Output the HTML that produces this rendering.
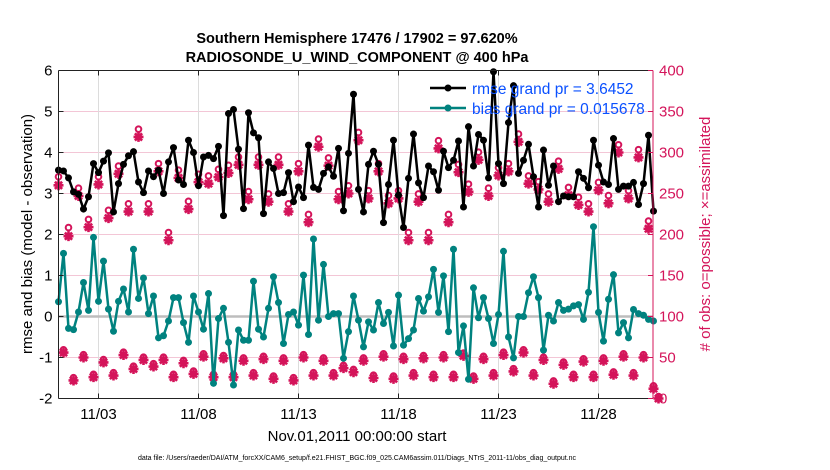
<!DOCTYPE html>
<html><head><meta charset="utf-8"><style>
body{margin:0;background:#fff}
svg{display:block;font-family:"Liberation Sans",sans-serif}
</style></head><body>
<svg id="chart" width="830" height="470" viewBox="0 0 830 470" xmlns="http://www.w3.org/2000/svg">
<text x="357" y="43" text-anchor="middle" font-size="14.5" font-weight="bold">Southern Hemisphere 17476 / 17902 = 97.620%</text>
<text x="357" y="62" text-anchor="middle" font-size="14.5" font-weight="bold">RADIOSONDE_U_WIND_COMPONENT @ 400 hPa</text>
<text transform="translate(32,234) rotate(-90)" text-anchor="middle" font-size="15">rmse and bias (model - observation)</text>
<text transform="translate(710,234) rotate(-90)" text-anchor="middle" font-size="15" fill="#d4145a"># of obs: o=possible; ×=assimilated</text>
<text x="357" y="441" text-anchor="middle" font-size="15">Nov.01,2011 00:00:00 start</text>
<text x="357" y="460" text-anchor="middle" font-size="7">data file: /Users/raeder/DAI/ATM_forcXX/CAM6_setup/f.e21.FHIST_BGC.f09_025.CAM6assim.011/Diags_NTrS_2011-11/obs_diag_output.nc</text>
<g id="grid"></g>
<g id="marks"></g>
<g id="axes"></g>
<g id="legend">
<line x1="430" y1="88" x2="466" y2="88" stroke="#000" stroke-width="2.5"/><circle cx="448" cy="88" r="3.5" fill="#000"/>
<text x="472" y="94" font-size="15.5" fill="#0a50ff">rmse grand pr = 3.6452</text>
<line x1="430" y1="108" x2="466" y2="108" stroke="#00827f" stroke-width="2.5"/><circle cx="448" cy="108" r="3.5" fill="#00827f"/>
<text x="472" y="114" font-size="15.5" fill="#0a50ff">bias grand pr = 0.015678</text>
</g>
</svg>
<script>
const rmse=[3.57,3.55,3.38,3.04,2.98,2.62,2.92,3.73,3.51,3.79,3.99,2.55,3.24,3.71,3.92,4.02,3.28,3.02,3.55,3.41,3.57,3.0,3.77,4.12,3.33,3.22,4.3,4.0,3.19,3.89,
3.93,3.85,4.15,2.46,4.95,5.05,4.08,2.63,4.97,4.48,4.36,2.51,3.77,3.61,3.0,3.02,3.51,2.8,3.16,2.9,4.18,3.15,3.1,3.49,3.65,3.42,4.1,2.58,3.98,5.42,
3.1,2.55,3.71,4.03,3.71,2.29,3.22,4.3,2.96,2.17,3.37,4.45,3.26,2.9,3.67,3.53,3.08,4.03,3.63,3.81,4.28,2.67,4.63,3.67,4.44,4.3,3.38,5.97,3.73,3.24,
4.73,5.63,3.49,3.81,4.2,3.41,2.67,4.06,3.2,3.67,2.8,2.94,2.92,2.92,3.53,3.37,3.14,4.3,3.69,3.28,3.22,4.34,3.1,3.18,3.18,3.27,2.73,3.24,4.42,2.57];
const bias=[0.36,1.54,-0.29,-0.32,0.11,0.83,0.15,1.93,0.37,1.35,0.18,-0.36,0.37,0.67,0.11,1.64,0.44,0.94,0.07,0.5,-0.52,-0.47,-0.11,0.46,0.46,-0.15,-0.63,0.5,0.11,-0.31,
0.56,-1.63,-0.05,0.2,-0.63,-1.67,-0.33,-0.58,-0.58,0.86,-0.31,-0.5,0.2,0.97,0.34,-0.66,0.05,0.11,-0.21,1.01,-0.44,1.89,-0.09,1.27,0,0.07,0.07,-1.02,-0.37,0.5,
-0.09,-0.74,-0.13,-0.33,0.34,-0.17,0.1,-0.72,0.52,-0.7,-0.54,-0.33,0.44,0.13,0.48,1.15,0.1,0.99,-0.37,1.64,-0.88,-0.23,-1.53,0.7,-0.03,0.46,-0.05,-0.66,0.05,1.59,
-0.5,-1.01,0,0,0.58,0.97,0.46,-0.82,0.03,-0.11,0.34,0.15,0.18,0.26,0.29,-0.07,0.59,2.19,0.1,-0.6,0.42,1.02,-0.4,-0.15,-0.52,0.17,0.07,0.03,-0.07,-0.11];
const nAssim=[260,56,198,22,247,50,209,26,261,44,220,28,274,53,228,36,319,47,228,39,277,47,193,26,269,43,231,30,264,51,
262,26,270,49,275,26,285,46,243,28,285,48,240,24,285,46,228,22,277,50,215,28,307,46,284,28,243,37,250,32,
315,46,244,25,277,51,238,24,244,48,193,28,240,49,193,26,305,50,215,26,276,52,252,24,291,48,247,28,272,53,
277,33,313,56,262,28,255,47,240,18,280,41,248,26,236,45,228,26,254,46,238,29,300,51,244,28,294,50,207,12,0];
const nPoss=[268,57,206,23,254,51,216,27,268,45,227,29,281,54,235,37,326,48,235,40,284,48,200,27,276,44,238,31,271,52,
269,27,277,50,282,27,292,47,250,29,292,49,247,25,292,47,235,23,284,51,222,29,314,47,291,29,250,38,257,33,
322,47,251,26,284,52,245,25,251,49,200,29,247,50,200,27,312,51,222,27,283,53,259,25,298,49,254,29,279,54,
284,34,320,57,269,29,262,48,247,19,287,42,255,27,243,46,235,27,261,47,245,30,307,52,251,29,301,51,214,13,0];
const dayTicks=[2,7,12,17,22,27];
const dayLabels=["11/03","11/08","11/13","11/18","11/23","11/28"];
const leftTicks=[-2,-1,0,1,2,3,4,5,6];
const rightTicks=[0,50,100,150,200,250,300,350,400];

const NS="http://www.w3.org/2000/svg";
const L=58.5,R=653,T=70.5,B=398.5;
const xS=t=>58.5+20*t;
const yL=v=>T+(6-v)*(B-T)/8;
const yR=c=>yL(c/50-2);
function mk(p,tag,at){const e=document.createElementNS(NS,tag);for(const k in at)e.setAttribute(k,at[k]);p.appendChild(e);return e;}
const grid=document.getElementById('grid'),marks=document.getElementById('marks'),axes=document.getElementById('axes');
const MAG="#d4145a",TEAL="#00827f";
leftTicks.forEach(v=>{if(v===0||v===-2||v===6)return;
 const g=mk(grid,'line',{x1:L,x2:R,y1:yL(v),y2:yL(v),stroke:"#f3c6d6","stroke-width":1});
 
 });
dayTicks.forEach(d=>{const g=mk(grid,'line',{x1:xS(d),x2:xS(d),y1:T,y2:B,stroke:"#dcdcdc","stroke-width":1});
 
 });
const z=mk(grid,'line',{x1:L,x2:R,y1:yL(0),y2:yL(0),stroke:"#bdbdbd","stroke-width":2.5});


// obs markers
nAssim.forEach((c,i)=>{const x=xS(i*0.25);
 const cp=mk(marks,'circle',{cx:x,cy:yR(nPoss[i])-2,r:2.8,fill:"#fff",stroke:MAG,"stroke-width":2});
 
 
 const y=yR(c);const g=mk(marks,'path',{d:`M${x-5},${y}H${x+5}M${x},${y-5}V${y+5}M${x-3.6},${y-3.6}L${x+3.6},${y+3.6}M${x-3.6},${y+3.6}L${x+3.6},${y-3.6}`,stroke:MAG,"stroke-width":2.6});
 
 });
function series(arr,col,name){
 const p=mk(marks,'polyline',{points:arr.map((v,i)=>xS(i*0.25)+","+yL(v)).join(" "),fill:"none",stroke:col,"stroke-width":2.5,"stroke-linejoin":"round"});
 
 
 arr.forEach((v,i)=>{const c=mk(marks,'circle',{cx:xS(i*0.25),cy:yL(v),r:3.5,fill:col});
 
 });
}
series(rmse,"#000","rmse");
series(bias,TEAL,"bias");
// axes
mk(axes,'line',{x1:L,x2:R,y1:T,y2:T,stroke:"#222","stroke-width":1});
mk(axes,'line',{x1:L,x2:R,y1:B,y2:B,stroke:"#222","stroke-width":1});
mk(axes,'line',{x1:L,x2:L,y1:T,y2:B,stroke:"#222","stroke-width":1});
mk(axes,'line',{x1:R,x2:R,y1:T,y2:B,stroke:MAG,"stroke-width":1});
leftTicks.forEach(v=>{mk(axes,'line',{x1:L,x2:L+5,y1:yL(v),y2:yL(v),stroke:"#222"});
 const t=mk(axes,'text',{x:L-6,y:yL(v)+5,"text-anchor":"end","font-size":15});t.textContent=v;
 
 });
rightTicks.forEach(c=>{mk(axes,'line',{x1:R-5,x2:R,y1:yR(c),y2:yR(c),stroke:MAG});
 const t=mk(axes,'text',{x:R+6,y:yR(c)+5,"font-size":15,fill:MAG});t.textContent=c;
 
 });
dayTicks.forEach((d,i)=>{mk(axes,'line',{x1:xS(d),x2:xS(d),y1:B-5,y2:B,stroke:"#222"});mk(axes,'line',{x1:xS(d),x2:xS(d),y1:T,y2:T+5,stroke:"#222"});
 const t=mk(axes,'text',{x:xS(d),y:419,"text-anchor":"middle","font-size":15});t.textContent=dayLabels[i];
 
 });
</script>
</body></html>
